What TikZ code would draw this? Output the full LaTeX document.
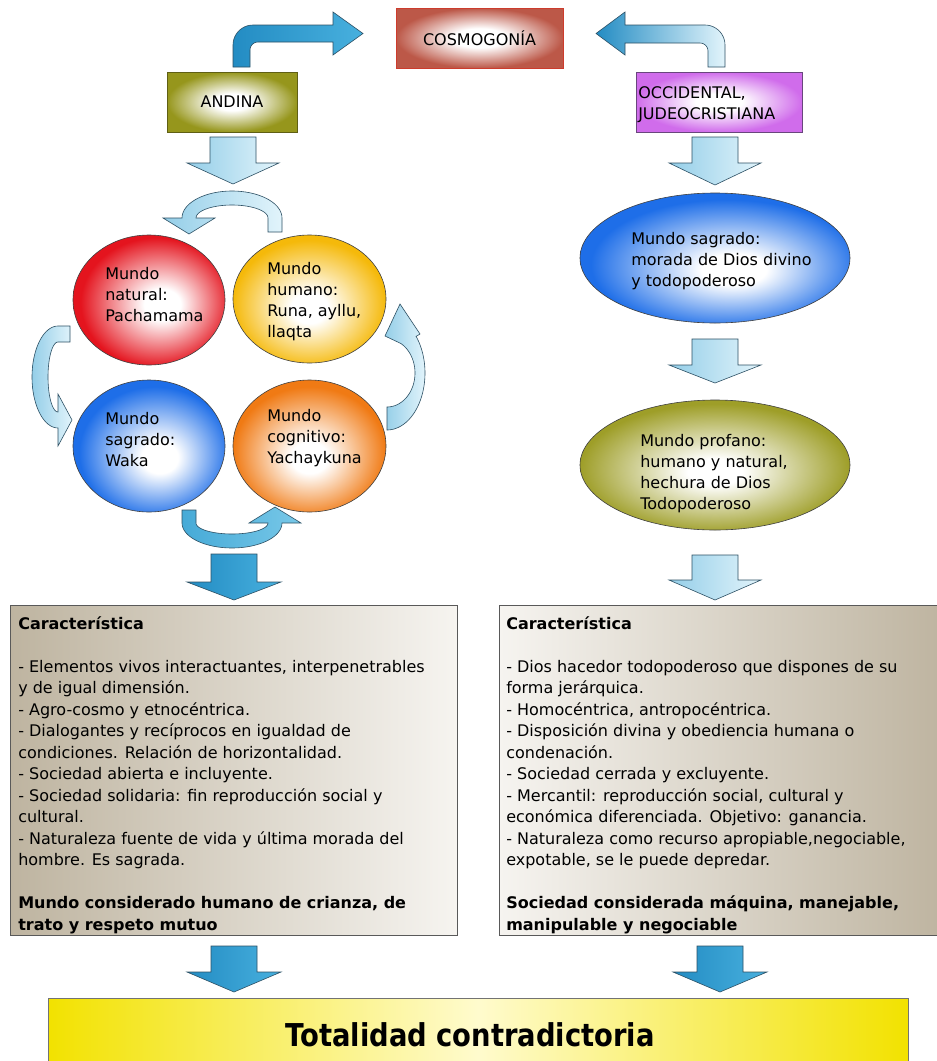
\documentclass[tikz,border=0pt]{standalone}
\usepackage{fontspec}
\setmainfont{DejaVu Sans}
\usetikzlibrary{shapes.geometric}
\newdimen\px \px=0.75pt
\definecolor{cosmoE}{RGB}{188,88,72}
\definecolor{cosmoB}{RGB}{205,60,45}
\definecolor{andE}{RGB}{150,150,28}
\definecolor{andB}{RGB}{95,95,20}
\definecolor{occE}{RGB}{208,108,235}
\definecolor{occB}{RGB}{105,70,125}
\definecolor{redE}{RGB}{228,20,30}
\definecolor{yelE}{RGB}{245,185,10}
\definecolor{bluE}{RGB}{30,110,232}
\definecolor{oraE}{RGB}{240,122,20}
\definecolor{oliE}{RGB}{158,158,40}
\definecolor{lightA}{RGB}{148,206,232}
\definecolor{lightB}{RGB}{226,244,251}
\definecolor{midA}{RGB}{70,170,215}
\definecolor{midB}{RGB}{120,200,232}
\definecolor{darkA}{RGB}{35,140,195}
\definecolor{darkB}{RGB}{72,176,222}
\definecolor{arrLine}{RGB}{45,80,100}
\definecolor{boxDark}{RGB}{190,180,160}
\definecolor{boxLight}{RGB}{246,244,240}
\definecolor{ylw}{RGB}{242,226,0}
\definecolor{ylwL}{RGB}{255,251,205}
\pgfdeclareradialshading{cosmoS}{\pgfpoint{0bp}{0bp}}{color(0bp)=(white); color(8bp)=(white); color(25bp)=(cosmoE); color(50bp)=(cosmoE)}
\pgfdeclareradialshading{andS}{\pgfpoint{0bp}{0bp}}{color(0bp)=(white); color(7bp)=(white); color(25bp)=(andE); color(50bp)=(andE)}
\pgfdeclareradialshading{occS}{\pgfpoint{0bp}{0bp}}{color(0bp)=(white); color(7bp)=(white); color(25bp)=(occE); color(50bp)=(occE)}
\pgfdeclareradialshading{redS}{\pgfpoint{5bp}{-2bp}}{color(0bp)=(white); color(6bp)=(white); color(25bp)=(redE); color(50bp)=(redE)}
\pgfdeclareradialshading{yelS}{\pgfpoint{0bp}{-4bp}}{color(0bp)=(white); color(6bp)=(white); color(25bp)=(yelE); color(50bp)=(yelE)}
\pgfdeclareradialshading{bluS}{\pgfpoint{4bp}{-5bp}}{color(0bp)=(white); color(6bp)=(white); color(25bp)=(bluE); color(50bp)=(bluE)}
\pgfdeclareradialshading{oraS}{\pgfpoint{0bp}{-5bp}}{color(0bp)=(white); color(6bp)=(white); color(25bp)=(oraE); color(50bp)=(oraE)}
\pgfdeclareradialshading{oliS}{\pgfpoint{0bp}{-3bp}}{color(0bp)=(white); color(5bp)=(white); color(25bp)=(oliE); color(50bp)=(oliE)}
\tikzset{
  hdr/.style={line width=1\px, inner sep=0, font=\fontsize{12}{16}\selectfont},
  orb/.style={ellipse, draw=black!75, line width=0.6\px, inner sep=0},
  lbl/.style={anchor=north west, inner sep=0, align=left, font=\fontsize{12}{15.75}\selectfont},
  body/.style={anchor=north west, inner sep=0, align=left, font=\fontsize{12}{16.125}\selectfont},
  bigbox/.style={draw=black!65, line width=1\px, inner sep=0},
  lightarr/.style={draw=arrLine, line width=0.6\px, left color=lightA, right color=lightB},
  midarr/.style={draw=arrLine, line width=0.6\px, left color=midA, right color=midB},
  darkarr/.style={draw=arrLine, line width=0.6\px, left color=darkA, right color=darkB},
}
\begin{document}
\begin{tikzpicture}[x=0.75pt, y=-0.75pt]
\useasboundingbox[fill=white] (0,0) rectangle (936,1061);

% ---------- header boxes ----------
\node[hdr, draw=cosmoB, shading=cosmoS, minimum width=167\px, minimum height=60\px] (cosmo) at (479.5,38) {COSMOGONÍA};
\node[hdr, draw=andB, shading=andS, minimum width=130\px, minimum height=60\px] (andina) at (232,102) {ANDINA};
\node[hdr, draw=occB, shading=occS, minimum width=166\px, minimum height=60\px] (occ) at (719,102) {};
\node[lbl] (occtxt) at (638,86) {OCCIDENTAL,\\JUDEOCRISTIANA};

% ---------- bent arrows to COSMOGONIA ----------
\path[darkarr] (233,67) -- plot[domain=180:270, samples=12] ({253+20*cos(\x)},{45+20*sin(\x)})
  -- (333,25) -- (333,12) -- (363,33.5) -- (333,55) -- (333,42)
  -- plot[domain=270:180, samples=8] ({258+8*cos(\x)},{50+8*sin(\x)}) -- (250,67) -- cycle;
\path[draw=arrLine, line width=0.6\px, left color=darkA, right color=lightB]
  (725,67) -- plot[domain=0:-90, samples=12] ({705+20*cos(\x)},{45+20*sin(\x)})
  -- (625,25) -- (625,12) -- (596,33.5) -- (625,55) -- (625,43)
  -- plot[domain=-90:0, samples=8] ({700+8*cos(\x)},{51+8*sin(\x)}) -- (708,67) -- cycle;

% ---------- straight down arrows ----------
\foreach \cx/\t/\b/\p in {233/137/163/184, 715/137/163/185, 715/339/365/383, 715/555/580/600}
  \path[lightarr] (\cx-23,\t) -- (\cx+23,\t) -- (\cx+23,\b) -- (\cx+46,\b) -- (\cx,\p) -- (\cx-46,\b) -- (\cx-23,\b) -- cycle;
\foreach \cx/\t/\b/\p in {234/554/582/600, 234/946/972/992, 720/946/972/992}
  \path[darkarr] (\cx-23,\t) -- (\cx+23,\t) -- (\cx+23,\b) -- (\cx+47,\b) -- (\cx,\p) -- (\cx-47,\b) -- (\cx-23,\b) -- cycle;

% ---------- circular arrows ----------
% top
\path[lightarr] (282,232) -- (282,218)
  -- plot[domain=0:-180, samples=40] ({232+50*cos(\x)},{218+27*sin(\x)})
  -- (163,218) -- (189,234) -- (215,218)
  -- plot[domain=-180:0, samples=40] ({232+36*cos(\x)},{218+13*sin(\x)})
  -- (268,232) -- cycle;
% left
\path[lightarr] (70,326) -- (58,326)
  -- plot[domain=-90:-270, samples=40] ({58+26*cos(\x)},{377+51*sin(\x)})
  -- (58,446) -- (72,420) -- (58,394)
  -- plot[domain=90:270, samples=40] ({58+10*cos(\x)},{377+35*sin(\x)})
  -- (70,342) -- cycle;
% right
\path[lightarr] (387,430)
  -- plot[domain=90:-40, samples=40] ({387+38*cos(\x)},{373+57*sin(\x)})
  -- (420,334) -- (400,304) -- (385,336)
  -- plot[domain=-60:90, samples=40] ({387+28*cos(\x)},{373+34*sin(\x)})
  -- cycle;
% bottom
\path[midarr] (182,510) -- (182,523)
  -- plot[domain=180:0, samples=40] ({232+50*cos(\x)},{523+25*sin(\x)})
  -- (301,523) -- (275,507) -- (249,523)
  -- plot[domain=0:180, samples=40] ({232+36*cos(\x)},{523+11*sin(\x)})
  -- (196,510) -- cycle;

% ---------- four worlds ----------
\node[orb, shading=redS, minimum width=152\px, minimum height=130\px] (natural) at (149,300) {};
\node[orb, shading=yelS, minimum width=153\px, minimum height=128\px] (humano) at (309.5,299) {};
\node[orb, shading=bluS, minimum width=152\px, minimum height=132\px] (sagrado) at (149,446) {};
\node[orb, shading=oraS, minimum width=153\px, minimum height=132\px] (cognitivo) at (309.5,446) {};
\node[lbl] (tnat) at (105,267) {Mundo\\natural:\\Pachamama};
\node[lbl] (thum) at (267,262) {Mundo\\humano:\\Runa, ayllu,\\llaqta};
\node[lbl] (tsag) at (105,412) {Mundo\\sagrado:\\Waka};
\node[lbl] (tcog) at (267,409) {Mundo\\cognitivo:\\Yachaykuna};

% ---------- right column ellipses ----------
\node[orb, shading=bluS, minimum width=270\px, minimum height=130\px] (divino) at (715,258) {};
\node[lbl] (tdiv) at (631,232) {Mundo sagrado:\\morada de Dios divino\\y todopoderoso};
\node[orb, shading=oliS, minimum width=270\px, minimum height=130\px] (profano) at (715,465) {};
\node[lbl] (tpro) at (640,434) {Mundo profano:\\humano y natural,\\hechura de Dios\\Todopoderoso};

% ---------- characteristic boxes ----------
\node[bigbox, left color=boxDark, right color=boxLight, minimum width=447\px, minimum height=330\px] (lbox) at (233.5,770) {};
\node[bigbox, left color=boxLight, right color=boxDark, minimum width=445\px, minimum height=330\px] (rbox) at (721.5,770) {};
\node[body] (ltxt) at (18,616) {\textbf{Característica}\\[16.125pt]
- Elementos vivos interactuantes, interpenetrables\\
y de igual dimensión.\\
- Agro-cosmo y etnocéntrica.\\
- Dialogantes y recíprocos en igualdad de\\
condiciones. Relación de horizontalidad.\\
- Sociedad abierta e incluyente.\\
- Sociedad solidaria: fin reproducción social y\\
cultural.\\
- Naturaleza fuente de vida y última morada del\\
hombre. Es sagrada.\\[16.125pt]
\textbf{Mundo considerado humano de crianza, de}\\
\textbf{trato y respeto mutuo}};
\node[body] (rtxt) at (506,616) {\textbf{Característica}\\[16.125pt]
- Dios hacedor todopoderoso que dispones de su\\
forma jerárquica.\\
- Homocéntrica, antropocéntrica.\\
- Disposición divina y obediencia humana o\\
condenación.\\
- Sociedad cerrada y excluyente.\\
- Mercantil: reproducción social, cultural y\\
económica diferenciada. Objetivo: ganancia.\\
- Naturaleza como recurso apropiable,negociable,\\
expotable, se le puede depredar.\\[16.125pt]
\textbf{Sociedad considerada máquina, manejable,}\\
\textbf{manipulable y negociable}};

% ---------- totality ----------
\node[draw=black!55, line width=1\px, inner sep=0, left color=ylw, right color=ylw, middle color=ylwL, minimum width=860\px, minimum height=80\px] (total) at (478,1038) {};
\node[inner sep=0, font=\bfseries\fontsize{23.6}{28}\selectfont] (ttot) at (470,1035) {\scalebox{0.87}[1]{Totalidad contradictoria}};
\end{tikzpicture}
\end{document}
